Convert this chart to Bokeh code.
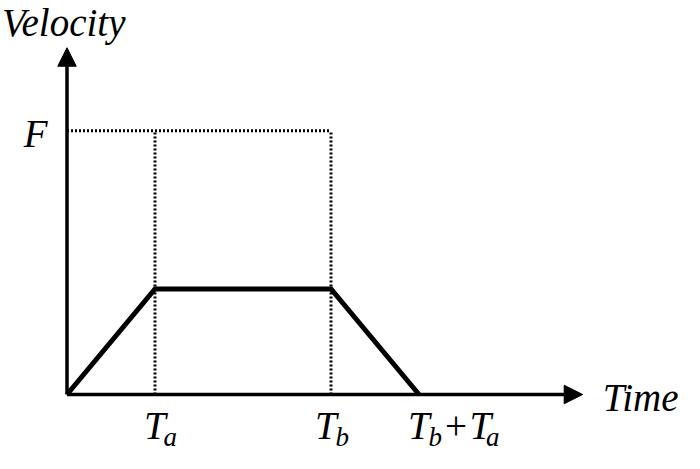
from bokeh.plotting import figure
from bokeh.models import Range1d, Arrow, NormalHead
from bokeh.core.properties import value
from bokeh.embed import file_html
from bokeh.resources import INLINE

# ---- data (chart values) ----
times = [0, 1, 3, 4]            # 0, Ta, Tb, Tb+Ta
velocity = [0, 0.4, 0.4, 0]     # trapezoidal velocity profile
F = 1.0                         # feed level
Ta, Tb = 1, 3
x_axis_end = 5.86
y_axis_end = 1.315

# ---- layout ----
W, H = 684, 453
px_x = 88.0    # pixels per time unit
px_y = 263.7   # pixels per velocity unit
ox, oy = 66.5, 394.0  # origin position inside the frame (from left / from top)

p = figure(width=W, height=H, output_backend="svg", toolbar_location=None,
           x_range=Range1d(-ox / px_x, (W - ox) / px_x),
           y_range=Range1d(-(H - oy) / px_y, oy / px_y),
           min_border=0, min_border_left=0, min_border_right=0,
           min_border_top=0, min_border_bottom=0)
p.axis.visible = False
p.grid.visible = False
p.outline_line_color = None
p.background_fill_color = "white"
p.border_fill_color = "white"

# dotted guide lines
dot = dict(line_color="black", line_width=3, line_dash="2 2")
p.line(x=[0, Tb], y=[F, F], **dot)
p.line(x=[Ta, Ta], y=[0, F], **dot)
p.line(x=[Tb, Tb], y=[0, F], **dot)

# axes with arrows
for xs, ys, xe, ye in [(0, 0, x_axis_end, 0), (0, 0, 0, y_axis_end)]:
    p.add_layout(Arrow(end=NormalHead(size=18.5, fill_color="black", line_color="black", line_width=1),
                       x_start=xs, y_start=ys, x_end=xe, y_end=ye,
                       line_color="black", line_width=3.5))

# velocity profile
p.line(x=times, y=velocity, line_color="black", line_width=5, line_join="miter")

font = value("Liberation Serif")
dy = -14  # correction for rendered baseline position

def txt(x, y, s, size, xo, yo, align="left", style="italic"):
    p.text(x=[x], y=[y], text=[s], text_font=font, text_font_style=style,
           text_font_size=size, text_color="black", text_align=align,
           text_baseline="alphabetic", x_offset=xo, y_offset=yo + dy)

big, small = "39px", "27px"
base, sub = 45, 56

# axis titles
txt(0, y_axis_end, "Velocity", big, -65, -11)
txt(x_axis_end, 0, "Time", big, 20, 16.5)
txt(0, F, "F", big, -19.5, 16.5, align="right")

# tick labels
txt(Ta, 0, "T", big, -11, base)
txt(Ta, 0, "a", small, 8.5, sub)
txt(Tb, 0, "T", big, -16, base)
txt(Tb, 0, "b", small, 4.5, sub)
txt(Tb + Ta, 0, "T", big, -11, base)
txt(Tb + Ta, 0, "b", small, 9.5, sub)
txt(Tb + Ta, 0, "+", big, 26, base, style="normal")
txt(Tb + Ta, 0, "T", big, 50.5, base)
txt(Tb + Ta, 0, "a", small, 67, sub)

open("out.html", "w").write(file_html(p, INLINE))
